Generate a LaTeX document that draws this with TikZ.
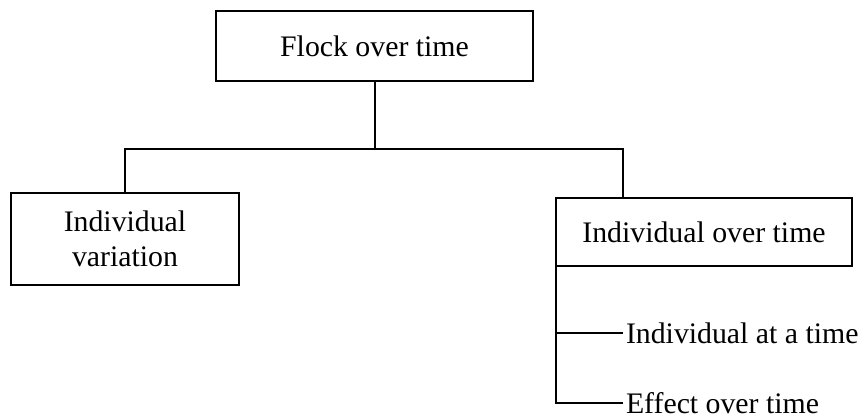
\documentclass[tikz,border=0pt]{standalone}
\usepackage{fontspec}
\setmainfont{Liberation Serif}

\begin{document}
\begin{tikzpicture}[x=0.5pt, y=-0.5pt, line width=1pt,
    box/.style={draw, outer sep=0pt, align=center, font=\fontsize{14.9}{17.5}\selectfont},
    leaf/.style={anchor=west, inner sep=1pt, font=\fontsize{14.9}{17.5}\selectfont}]
        \useasboundingbox (0,0) rectangle (864,417);

        \node[box, minimum width=158.5pt, minimum height=35pt] (flock) at (374.5,46) {Flock over time};
        \node[box, minimum width=114pt, minimum height=46pt] (var) at (125,239) {Individual\\variation};
        \node[box, minimum width=148pt, minimum height=34pt] (indiv) at (704,232) {Individual over time};
        \node[leaf] (atime) at (623,333) {Individual at a time};
        \node[leaf] (effect) at (623,403) {Effect over time};

        \coordinate (bar) at ([yshift=-34pt]flock.south);
        \coordinate (rdrop) at ([xshift=33.5pt]indiv.north west);

        \draw (flock.south) -- (bar);
        \draw (var.north) |- (bar) -| (rdrop);
        \draw (indiv.south west) |- (atime.west);
        \draw (indiv.south west) |- (effect.west);
      \end{tikzpicture}
\end{document}
